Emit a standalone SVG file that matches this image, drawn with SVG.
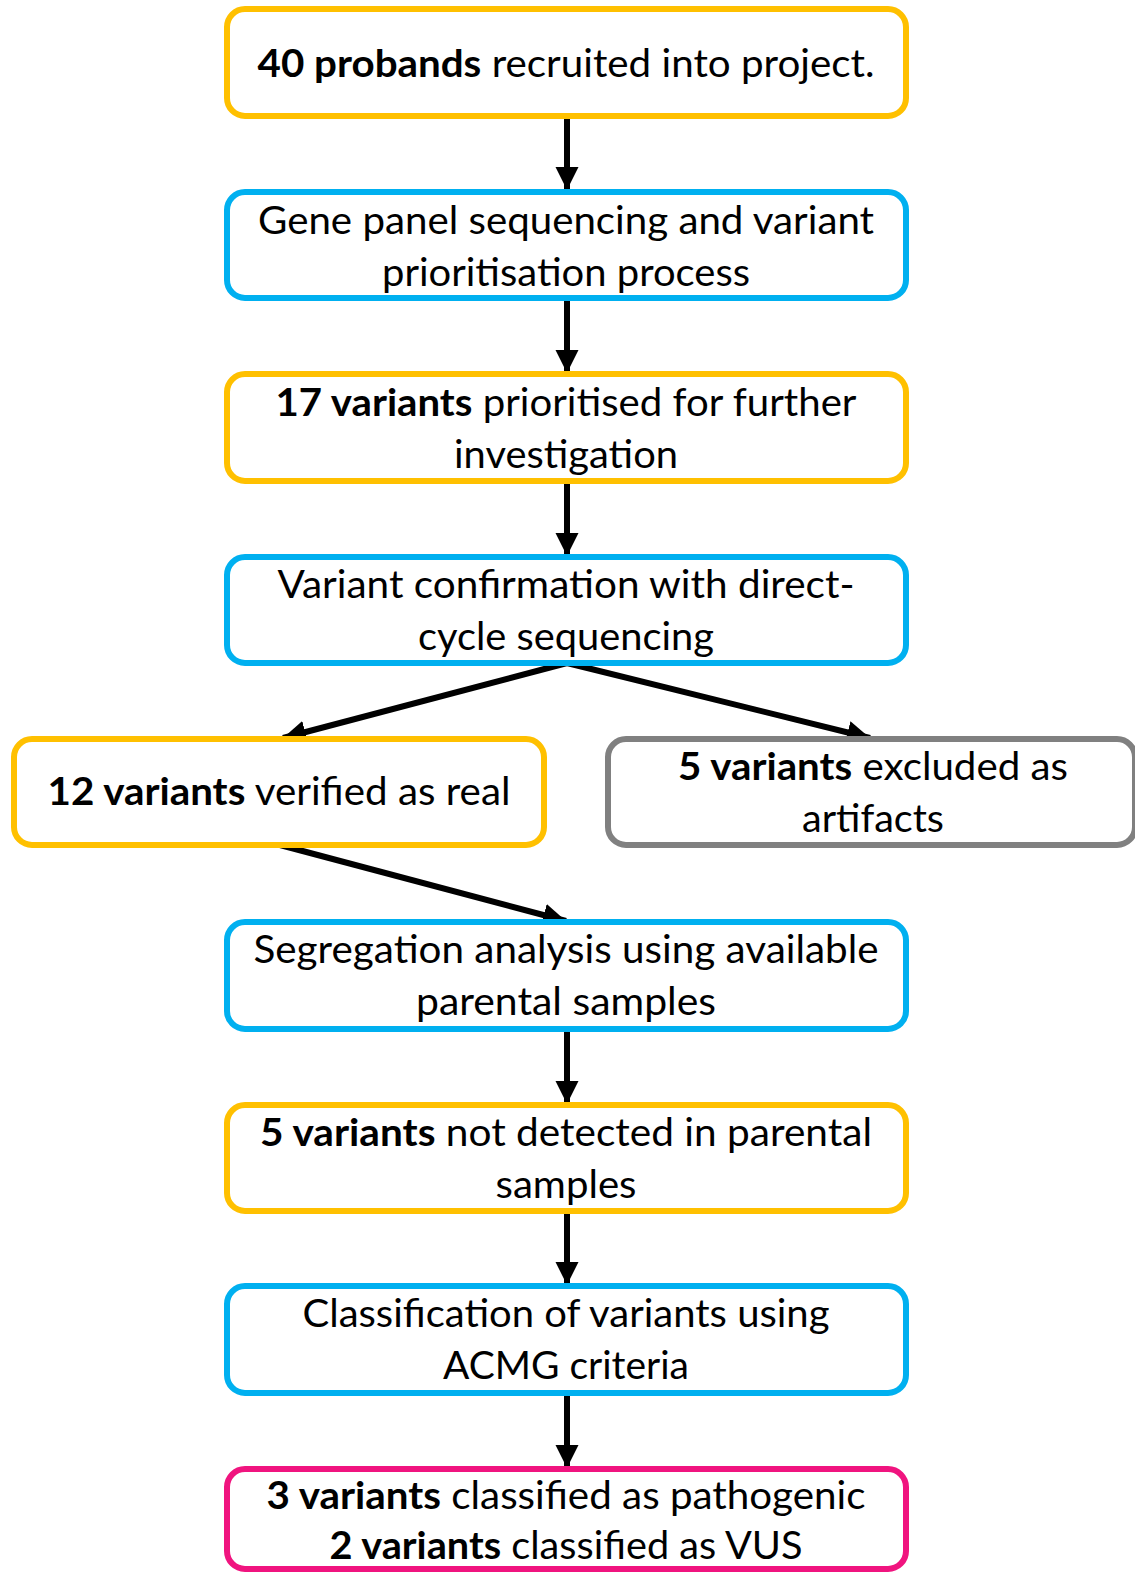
<svg xmlns="http://www.w3.org/2000/svg" width="1135" height="1572" viewBox="0 0 1135 1572">
  <style>
    .box { fill: #ffffff; stroke-width: 6; }
    .yel { stroke: #FFC000; }
    .blu { stroke: #00B0F0; }
    .gry { stroke: #808080; }
    .pnk { stroke: #F0147F; }
    text { font-family: Lato, "Open Sans", "Liberation Sans", sans-serif; font-size: 38px; fill: #000000; text-anchor: middle; }
    .b { font-weight: bold; }
    .edge { stroke: #000000; stroke-width: 6; fill: none; marker-end: url(#head); }
  </style>
  <defs>
    <marker id="head" markerUnits="userSpaceOnUse" markerWidth="26" markerHeight="26" refX="23" refY="13" orient="auto">
      <path d="M0,1.5 L23,13 L0,24.5 Z" fill="#000000"/>
    </marker>
  </defs>

  <rect width="1135" height="1572" fill="#ffffff"/>

  <g id="connectors">
    <line class="edge" x1="567" y1="116" x2="567" y2="190"/>
    <line class="edge" x1="567" y1="298" x2="567" y2="373"/>
    <line class="edge" x1="567" y1="481" x2="567" y2="556"/>
    <line class="edge" x1="567" y1="663" x2="283" y2="738"/>
    <line class="edge" x1="567" y1="663" x2="870" y2="738"/>
    <line class="edge" x1="280" y1="845" x2="566" y2="921"/>
    <line class="edge" x1="567" y1="1029" x2="567" y2="1104"/>
    <line class="edge" x1="567" y1="1211" x2="567" y2="1285"/>
    <line class="edge" x1="567" y1="1393" x2="567" y2="1468"/>
  </g>

  <g id="n1">
    <rect class="box yel" x="227" y="9" width="679" height="107" rx="18"/>
    <text x="566" y="77" textLength="617" lengthAdjust="spacingAndGlyphs"><tspan class="b">40 probands</tspan> recruited into project.</text>
  </g>

  <g id="n2">
    <rect class="box blu" x="227" y="192" width="679" height="106" rx="18"/>
    <text x="566" y="234" textLength="616" lengthAdjust="spacingAndGlyphs">Gene panel sequencing and variant</text>
    <text x="566" y="286" textLength="368" lengthAdjust="spacingAndGlyphs">prioritisation process</text>
  </g>

  <g id="n3">
    <rect class="box yel" x="227" y="374" width="679" height="107" rx="18"/>
    <text x="566" y="416" textLength="581" lengthAdjust="spacingAndGlyphs"><tspan class="b">17 variants</tspan> prioritised for further</text>
    <text x="566" y="468" textLength="224" lengthAdjust="spacingAndGlyphs">investigation</text>
  </g>

  <g id="n4">
    <rect class="box blu" x="227" y="557" width="679" height="106" rx="18"/>
    <text x="566" y="598" textLength="577" lengthAdjust="spacingAndGlyphs">Variant confirmation with direct-</text>
    <text x="566" y="650" textLength="296" lengthAdjust="spacingAndGlyphs">cycle sequencing</text>
  </g>

  <g id="n5">
    <rect class="box yel" x="14" y="739" width="530" height="106" rx="18"/>
    <text x="279" y="805" textLength="463" lengthAdjust="spacingAndGlyphs"><tspan class="b">12 variants</tspan> verified as real</text>
  </g>

  <g id="n6">
    <rect class="box gry" x="608" y="739" width="527" height="106" rx="18"/>
    <text x="873" y="780" textLength="390" lengthAdjust="spacingAndGlyphs"><tspan class="b">5 variants</tspan> excluded as</text>
    <text x="873" y="832" textLength="142" lengthAdjust="spacingAndGlyphs">artifacts</text>
  </g>

  <g id="n7">
    <rect class="box blu" x="227" y="922" width="679" height="107" rx="18"/>
    <text x="566" y="963" textLength="625" lengthAdjust="spacingAndGlyphs">Segregation analysis using available</text>
    <text x="566" y="1015" textLength="300" lengthAdjust="spacingAndGlyphs">parental samples</text>
  </g>

  <g id="n8">
    <rect class="box yel" x="227" y="1105" width="679" height="106" rx="18"/>
    <text x="566" y="1146" textLength="612" lengthAdjust="spacingAndGlyphs"><tspan class="b">5 variants</tspan> not detected in parental</text>
    <text x="566" y="1198" textLength="141" lengthAdjust="spacingAndGlyphs">samples</text>
  </g>

  <g id="n9">
    <rect class="box blu" x="227" y="1286" width="679" height="107" rx="18"/>
    <text x="566" y="1327" textLength="527" lengthAdjust="spacingAndGlyphs">Classification of variants using</text>
    <text x="566" y="1379" textLength="246" lengthAdjust="spacingAndGlyphs">ACMG criteria</text>
  </g>

  <g id="n10">
    <rect class="box pnk" x="227" y="1469" width="679" height="100" rx="18"/>
    <text x="566" y="1509" textLength="599" lengthAdjust="spacingAndGlyphs"><tspan class="b">3 variants</tspan> classified as pathogenic</text>
    <text x="566" y="1559" textLength="473" lengthAdjust="spacingAndGlyphs"><tspan class="b">2 variants</tspan> classified as VUS</text>
  </g>
</svg>
